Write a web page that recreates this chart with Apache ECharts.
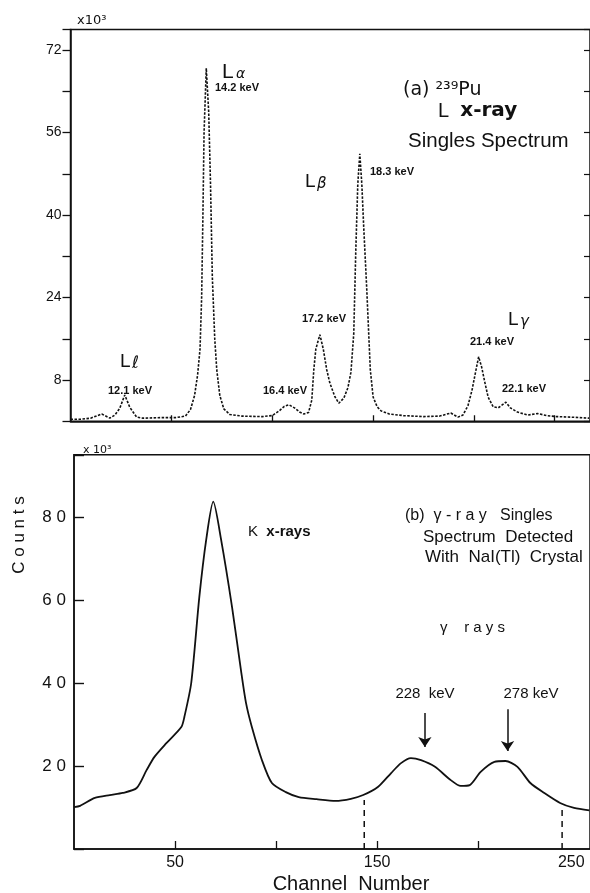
<!DOCTYPE html>
<html>
<head>
<meta charset="utf-8">
<script src="https://cdn.jsdelivr.net/npm/echarts@6/dist/echarts.min.js"></script>
<style>html,body{margin:0;padding:0;background:#fff;}#c{width:590px;height:893px;}</style>
</head>
<body>
<div id="c"></div>
<script>
// (a) L x-ray singles spectrum: channel vs counts (x10^3)
var topChannels = [0,5,10,15.5,19.5,22,24.4,26.9,29.4,32.8,36,45,52,57,59.5,61.5,63,64.2,65,65.6,66.2,67.3,68.5,69.4,70.3,71.5,72.5,74,76,79,85,95,100,103.4,106,108.3,111,113.5,115.7,118,119.6,120.6,121.6,123.6,125.3,127,128.5,131,133,135.5,137.5,139,140.4,141.4,142.4,143.4,144.4,145.3,146.8,148.6,150,152,154,158,165,175,183,188.5,192,194.5,197,199,200.5,202.3,203.8,205.4,207,209.5,212,215.8,218,221.5,226.6,231.5,236,241,248,257];
var topCounts = [0.4,0.4,0.6,1.4,0.6,1.2,2.5,5.1,2.7,0.8,0.6,0.7,0.7,1.0,2.3,5,9,14,24,39,56,68.5,60,46,28,16,10,5,2.4,1.3,1.0,0.9,1.1,2.0,2.9,3.2,2.6,1.8,1.4,1.7,4.1,10,14,16.8,14,10,7.5,4.8,3.5,4.5,6.5,9.5,17,33,46,51.9,46,38,26,10,4.7,2.8,2.0,1.4,1.1,0.9,1.0,1.6,0.8,1.2,3,6,9,12.5,10.5,7.5,4.7,2.8,2.6,3.7,2.6,1.8,1.2,1.5,1.1,0.9,0.8,0.6];
var topYTicks = [8,24,40,56,72];
var topXTicks = [50,100,150,200,240];

// (b) gamma-ray singles spectrum with NaI(Tl)
var botChannels = [0,3,10.3,17.7,24.1,31,35.9,39.8,45.7,53.1,54.6,58,62,65.4,68.9,72.8,78.2,82.6,85.1,88,93,97.9,104.8,111.2,120,129.4,137,143.1,150.5,156.9,161.8,166.7,171.7,178.6,186.4,191.3,195.8,201.2,208,213.5,219.4,225.8,232.7,240.5,247.4,255];
var botCounts = [10.1,10.4,12.3,13.0,13.5,14.7,19.0,22.2,25.5,29.4,31.8,40,60.7,74.5,83.7,74.5,58.3,43.1,35.2,29.4,21.4,15.9,13.7,12.5,12.0,11.6,12.1,13.0,15.0,18.3,20.7,21.9,21.4,19.8,16.6,15.2,15.4,18.6,21.0,21.2,19.8,15.9,13.5,11.1,9.9,9.3];
var botYTicks = [20,40,60,80];
var botXLabels = [50,150,250];
var botXTicks = [50,100,150,200];
// dashed window limits
var windowChannels = [143.6,241.5];
var windowTops = [11.8,9.9];
// arrows marking the gamma lines
var arrowChannels = [173.6,214.5];
var arrowFrom = [32.8,33.7];
var arrowTo = [24.6,23.6];

var FONT = "'Liberation Sans','DejaVu Sans',sans-serif";
var DJ = "'DejaVu Sans',sans-serif";

function toPairs(xs, ys){ return xs.map(function(x,i){ return [x, ys[i]]; }); }

var chart = echarts.init(document.getElementById('c'), null, {renderer:'canvas'});

var series = [
  {type:'line', xAxisIndex:0, yAxisIndex:0, data:toPairs(topChannels, topCounts), showSymbol:false, symbol:'none',
   lineStyle:{color:'#111', width:1.6, type:[2.5,1.5]}, silent:true},
  {type:'line', xAxisIndex:1, yAxisIndex:2, data:toPairs(botChannels, botCounts), showSymbol:false, symbol:'none', smooth:0.25,
   lineStyle:{color:'#111', width:1.8}, silent:true}
];
windowChannels.forEach(function(ch,i){
  series.push({type:'line', xAxisIndex:1, yAxisIndex:2, data:[[ch,0],[ch,windowTops[i]]], showSymbol:false, symbol:'none',
    lineStyle:{color:'#111', width:1.5, type:[6,5]}, silent:true});
});
series.push({type:'line', xAxisIndex:1, yAxisIndex:2, data:[], silent:true,
  markLine:{silent:true, symbol:['none','arrow'], symbolSize:10, label:{show:false},
    lineStyle:{color:'#111', width:1.5, type:'solid'},
    itemStyle:{color:'#111'},
    data: arrowChannels.map(function(ch,i){
      return [{coord:[ch,arrowFrom[i]], symbol:'none'},{coord:[ch,arrowTo[i]], symbol:'arrow', symbolSize:10}];
    })
  }});

function txt(x, y, text, size, opts){
  opts = opts || {};
  return {type:'text', x:x, y:y, rotation:opts.rot||0, silent:true,
    style:{text:text, fill:'#111', font:(opts.style||'normal')+' '+(opts.weight||'normal')+' '+size+'px '+(opts.family||FONT),
      align:opts.align||'left', verticalAlign:opts.valign||'middle', textAlign:opts.align||'left', textVerticalAlign:opts.valign||'middle', rich:opts.rich}};
}
// "L" followed by a greek subscript letter, as two text pieces
function greekL(x, y, g, lsize, gsize, gdx, gstyle){
  return [
    txt(x, y, 'L', lsize),
    txt(x + gdx, y + 2, g, gsize, {family:DJ, style:gstyle||'italic'})
  ];
}

var graphics = [
  txt(77,21,'x10³',13,{family:DJ}),
  txt(215,88,'14.2 keV',11,{weight:'bold'}),
  txt(403,90,'(a) ²³⁹Pu',19,{family:DJ}),
  txt(438,111,'{n|L  }{b|x-ray}',20,{rich:{n:{fontSize:20,fontFamily:FONT,fill:'#111'},b:{fontSize:20,fontWeight:'bold',fontFamily:DJ,fill:'#111'}}}),
  txt(408,141,'Singles Spectrum',20.5),
  txt(370,172,'18.3 keV',11,{weight:'bold'}),
  txt(302,319,'17.2 keV',11,{weight:'bold'}),
  txt(108,391,'12.1 keV',11,{weight:'bold'}),
  txt(263,391,'16.4 keV',11,{weight:'bold'}),
  txt(470,342,'21.4 keV',11,{weight:'bold'}),
  txt(502,389,'22.1 keV',11,{weight:'bold'}),

  txt(83,450,'x 10³',11,{family:DJ}),
  txt(19,535,'C o u n t s',17,{rot:Math.PI/2,align:'center'}),
  txt(248,532,'{n|K  }{b|x-rays}',15,{rich:{n:{fontSize:15,fontFamily:FONT,fill:'#111'},b:{fontSize:15,fontWeight:'bold',fontFamily:FONT,fill:'#111'}}}),
  txt(405,516,'(b)  γ - r a y   Singles',16),
  txt(423,537,'Spectrum  Detected',17),
  txt(425,557,'With  NaI(Tl)  Crystal',17),
  txt(440,628,'γ    r a y s',15),
  txt(425,694,'228  keV',15,{align:'center'}),
  txt(531,694,'278 keV',15,{align:'center'}),
  txt(351,884,'Channel  Number',20,{align:'center'})
].concat(
  greekL(222,72,'α',21,14,14),
  greekL(305,182,'β',19,15,12),
  greekL(120,362,'ℓ',19,17,12,'normal'),
  greekL(508,320,'γ',19,15,12)
);

var option = {
  animation:false,
  backgroundColor:'#fff',
  grid:[
    {left:70.5, top:29.5, width:522, height:391.75, show:true, borderColor:'#111', borderWidth:1.5, backgroundColor:'transparent'},
    {left:74, top:454.75, width:519, height:394.25, show:true, borderColor:'#111', borderWidth:1.5, backgroundColor:'transparent'}
  ],
  xAxis:[
    {type:'value', gridIndex:0, min:0, max:257.5, interval:50, splitLine:{show:false},
     axisLine:{show:true, lineStyle:{color:'#111', width:1.5}},
     axisTick:{show:true, inside:true, length:6, lineStyle:{color:'#111', width:1.3}, customValues:topXTicks},
     axisLabel:{show:false}},
    {type:'value', gridIndex:1, min:0, max:255.3, interval:50, splitLine:{show:false},
     axisLine:{show:true, lineStyle:{color:'#111', width:1.5}},
     axisTick:{show:true, inside:true, length:8, lineStyle:{color:'#111', width:1.3}, customValues:botXTicks},
     axisLabel:{show:true, customValues:botXLabels, margin:6, color:'#111', fontSize:16, fontFamily:FONT,
       formatter:function(v){ return v===250 ? '{r|'+v+'}' : String(v); },
       rich:{r:{fontSize:16, fontFamily:FONT, color:'#111', padding:[0,16,0,0]}}}}
  ],
  yAxis:[
    {type:'value', gridIndex:0, min:0, max:76, interval:8, splitLine:{show:false},
     axisLine:{show:true, lineStyle:{color:'#111', width:1.5}},
     axisTick:{show:true, inside:false, length:8, lineStyle:{color:'#111', width:1.3}},
     axisLabel:{show:true, margin:9, color:'#111', fontSize:14, fontFamily:FONT,
       formatter:function(v){ return topYTicks.indexOf(v)>=0 ? String(v) : ''; }}},
    {type:'value', gridIndex:0, position:'right', min:0, max:76, interval:8, splitLine:{show:false},
     axisLine:{show:false}, axisTick:{show:true, inside:true, length:6, lineStyle:{color:'#111', width:1.2}},
     axisLabel:{show:false}},
    {type:'value', gridIndex:1, min:0, max:95, interval:20, splitLine:{show:false},
     axisLine:{show:true, lineStyle:{color:'#111', width:1.5}},
     axisTick:{show:true, inside:true, length:10, lineStyle:{color:'#111', width:1.4}},
     axisLabel:{show:true, margin:8, color:'#111', fontSize:17, fontFamily:FONT,
       formatter:function(v){ return botYTicks.indexOf(v)>=0 ? String(v).split('').join(' ') : ''; }}}
  ],
  series:series,
  graphic:graphics
};
chart.setOption(option);
</script>
</body>
</html>
